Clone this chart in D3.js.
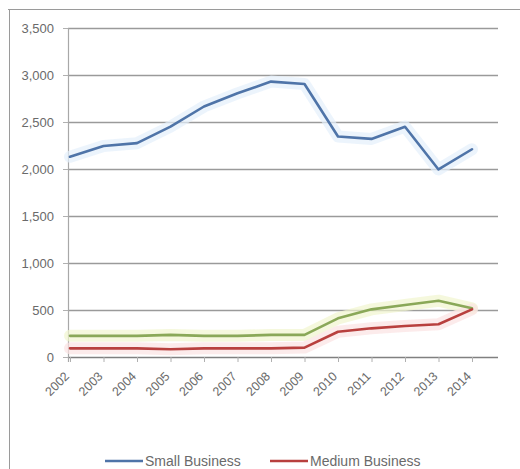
<!DOCTYPE html>
<html><head><meta charset="utf-8">
<script src="https://cdn.jsdelivr.net/npm/d3@7"></script>
<style>body{margin:0;background:#fff}svg{display:block}</style>
</head><body>
<script>
const years = ["2002","2003","2004","2005","2006","2007","2008","2009","2010","2011","2012","2013","2014"];
const smallBusiness = [2130,2245,2275,2450,2665,2805,2930,2905,2345,2320,2450,1995,2210];
const mediumBusiness = [92,92,92,82,92,92,92,100,269,305,330,348,507];
const largeBusiness = [225,225,225,235,225,225,235,235,411,507,553,599,518];
const yTicks = [0,500,1000,1500,2000,2500,3000,3500];
const legendLabels = ["Small Business","Medium Business"];

const W=520,H=469;
const svg=d3.select("body").append("svg").attr("width",W).attr("height",H);
const font="'Liberation Sans', Arial, sans-serif";

// frame
svg.append("line").attr("x1",8).attr("x2",W).attr("y1",9.5).attr("y2",9.5).attr("stroke","#9a9a9a");
svg.append("line").attr("x1",9.5).attr("x2",9.5).attr("y1",9).attr("y2",H).attr("stroke","#9a9a9a");

const y=d3.scaleLinear().domain([0,3500]).range([357,28]);
const x=d3.scalePoint().domain(years).range([70,472]);
const gridRight=498, plotLeft=68;

// gridlines
svg.append("g").selectAll("line").data(yTicks).join("line")
  .attr("x1",plotLeft).attr("x2",gridRight)
  .attr("y1",d=>Math.round(y(d))+0.5).attr("y2",d=>Math.round(y(d))+0.5)
  .attr("stroke",d=>d===0?"#808080":"#9a9a9a").attr("stroke-width",1.4);
// vertical axis
svg.append("line").attr("x1",plotLeft+0.5).attr("x2",plotLeft+0.5).attr("y1",y(3500)).attr("y2",y(0)+5).attr("stroke","#a8a8a8").attr("stroke-width",1.2);
// y ticks marks
svg.append("g").selectAll("line").data(yTicks).join("line")
  .attr("x1",plotLeft-5).attr("x2",plotLeft).attr("y1",d=>Math.round(y(d))+0.5).attr("y2",d=>Math.round(y(d))+0.5).attr("stroke","#b0b0b0");
// y labels
svg.append("g").selectAll("text").data(yTicks).join("text")
  .attr("x",54).attr("y",d=>y(d)+4.5).attr("text-anchor","end")
  .attr("font-family",font).attr("font-size",13).attr("fill","#6a6a6a")
  .text(d=>d3.format(",")(d));
// x tick marks
svg.append("g").selectAll("line").data(years).join("line")
  .attr("x1",d=>x(d)+0.5).attr("x2",d=>x(d)+0.5).attr("y1",y(0)).attr("y2",y(0)+5).attr("stroke","#b0b0b0");
// x labels
svg.append("g").selectAll("text").data(years).join("text")
  .attr("transform",d=>`translate(${x(d)},${y(0)+20}) rotate(-45)`)
  .attr("text-anchor","end").attr("font-family",font).attr("font-size",12.5).attr("fill","#6a6a6a")
  .text(d=>d);

const line=d3.line().x((d,i)=>x(years[i])).y(d=>y(d));
const series=[
  {vals:largeBusiness,color:"#8aa858",glow:"#f1f5cf"},
  {vals:mediumBusiness,color:"#b8403e",glow:"#fbe3e3"},
  {vals:smallBusiness,color:"#4f74a8",glow:"#e4f0fb"}
];
series.forEach(s=>{
  svg.append("path").attr("d",line(s.vals)).attr("fill","none").attr("stroke",s.glow)
    .attr("stroke-width",12).attr("stroke-linejoin","round").attr("stroke-linecap","round").attr("opacity",0.7);
});
series.forEach(s=>{
  svg.append("path").attr("d",line(s.vals)).attr("fill","none").attr("stroke",s.color)
    .attr("stroke-width",2.6).attr("stroke-linejoin","round").attr("stroke-linecap","round");
});

// legend
const leg=[{label:legendLabels[0],color:"#4f74a8",x:105},{label:legendLabels[1],color:"#b8403e",x:270}];
leg.forEach(l=>{
  svg.append("line").attr("x1",l.x).attr("x2",l.x+38).attr("y1",461).attr("y2",461).attr("stroke",l.color).attr("stroke-width",2.6);
  svg.append("text").attr("x",l.x+40).attr("y",466).attr("font-family",font).attr("font-size",14).attr("fill","#6a6a6a").text(l.label);
});
</script>
</body></html>
